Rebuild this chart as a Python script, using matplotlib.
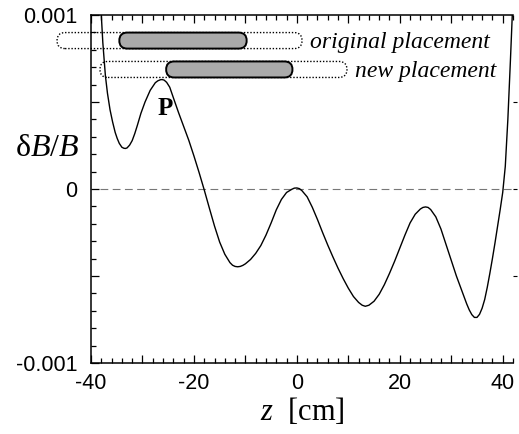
import numpy as np
import matplotlib
matplotlib.use("Agg")
import matplotlib.pyplot as plt
from matplotlib.patches import FancyBboxPatch
from matplotlib.ticker import MultipleLocator, FuncFormatter

plt.rcParams['font.family'] = 'Liberation Sans'
plt.rcParams['mathtext.fontset'] = 'custom'
plt.rcParams['mathtext.rm'] = 'Liberation Serif'
plt.rcParams['mathtext.it'] = 'Liberation Serif:italic'

## Data ##
z_cm = [-38.4, -38.0, -37.7, -37.2, -36.8, -36.3, -35.8, -35.3, -34.9, -34.5,
        -34.0, -33.6, -33.3, -33.0, -32.5, -32.0, -31.5, -31.0, -30.3, -29.5,
        -28.5, -27.5, -27.0, -26.5, -26.2, -25.8, -25.3, -24.7, -24.0, -23.0,
        -22.0, -21.0, -20.0, -19.0, -18.0, -17.0, -16.0, -15.0, -14.0, -13.0,
        -12.5, -12.0, -11.5, -11.0, -10.5, -10.0, -9.0, -8.0, -7.0, -6.0,
        -5.0, -4.0, -3.0, -2.0, -1.0, -0.5, 0.0, 0.5, 1.0, 2.0,
        3.0, 4.0, 5.0, 6.0, 7.0, 8.0, 9.0, 10.0, 11.0, 12.0,
        12.7, 13.3, 14.0, 15.0, 16.0, 17.0, 18.0, 19.0, 20.0, 21.0,
        22.0, 23.0, 24.0, 24.5, 25.0, 25.5, 26.0, 27.0, 28.0, 29.0,
        30.0, 31.0, 32.0, 33.0, 33.5, 34.0, 34.5, 35.0, 35.5, 36.0,
        36.5, 37.0, 37.5, 38.0, 38.5, 39.0, 39.5, 40.0, 40.5, 41.0,
        41.5, 42.0]
# dB/B in units of 1e-3
dB_B = [1.30, 1.00, 0.84, 0.65, 0.55, 0.455, 0.385, 0.325, 0.29, 0.262,
        0.24, 0.234, 0.233, 0.236, 0.252, 0.278, 0.318, 0.365, 0.435, 0.50,
        0.567, 0.611, 0.622, 0.628, 0.629, 0.626, 0.613, 0.585, 0.525, 0.44,
        0.36, 0.28, 0.19, 0.095, -0.005, -0.11, -0.213, -0.305, -0.375, -0.423,
        -0.438, -0.445, -0.447, -0.445, -0.439, -0.43, -0.405, -0.37, -0.325, -0.265,
        -0.195, -0.12, -0.06, -0.02, -0.002, 0.005, 0.006, 0.002, -0.01, -0.045,
        -0.105, -0.175, -0.25, -0.322, -0.39, -0.455, -0.515, -0.57, -0.618, -0.652,
        -0.668, -0.674, -0.668, -0.645, -0.605, -0.55, -0.485, -0.415, -0.34, -0.265,
        -0.195, -0.145, -0.115, -0.106, -0.103, -0.106, -0.118, -0.16, -0.23, -0.32,
        -0.41, -0.50, -0.58, -0.66, -0.695, -0.722, -0.738, -0.738, -0.72, -0.685,
        -0.635, -0.565, -0.485, -0.40, -0.31, -0.215, -0.12, -0.02, 0.13, 0.40,
        0.74, 1.10]

# magnet placements: (start, end) in cm, and row height in units of 1e-3
placement_labels = ["original placement", "new placement"]
magnet_span = [(-34.5, -9.75), (-25.4, -0.85)]
range_span = [(-46.6, 1.0), (-38.25, 9.75)]
row_level = [0.853, 0.687]
pipe_height = 0.092

y_ticks = [-0.001, 0, 0.001]
y_tick_labels = ["-0.001", "0", "0.001"]

fig = plt.figure(figsize=(5.19, 4.34), dpi=100)
ax = fig.add_axes([91/519, 1-363/434, 422/519, 348/434])
ax.set_xlim(-40, 42)
ax.set_ylim(-0.001, 0.001)

ax.plot(z_cm, np.array(dB_B)*1e-3, color='black', lw=1.0, zorder=3)
ax.axhline(0, xmin=0.021, xmax=1, color='#777777', lw=0.8,
           linestyle=(0, (7, 4)), zorder=2)

# pill shapes, round in pixels
ax_w = fig.get_figwidth()*fig.dpi*ax.get_position().width
ax_h = fig.get_figheight()*fig.dpi*ax.get_position().height
aspect = (0.002/ax_h)/(82/ax_w)
h = pipe_height*1e-3
r = h/aspect/2
for lab, (m0, m1), (d0, d1), lev in zip(placement_labels, magnet_span, range_span, row_level):
    yc = lev*1e-3
    dotted = FancyBboxPatch((d0, yc-h/2), d1-d0, h,
                            boxstyle="round,pad=0,rounding_size=%f" % r,
                            mutation_aspect=aspect, fc='none', ec='black',
                            lw=1.0, linestyle=(0, (1, 1.3)), clip_on=False, zorder=4)
    ax.add_patch(dotted)
    pipe = FancyBboxPatch((m0, yc-h/2), m1-m0, h,
                          boxstyle="round,pad=0,rounding_size=%f" % r,
                          mutation_aspect=aspect, fc='#aaaaaa', ec='black',
                          lw=1.4, clip_on=False, zorder=5)
    ax.add_patch(pipe)
    ax.text(d1+1.5, yc-0.01e-3, lab, family='Liberation Serif', style='italic',
            fontsize=17, va='center', ha='left')

ax.text(-25.6, 0.46e-3, "P", family='Liberation Serif', weight='bold',
        fontsize=18, ha='center', va='center')

# axes and ticks
ax.spines['right'].set_visible(False)
for s in ['left', 'bottom', 'top']:
    ax.spines[s].set_linewidth(1.1)

ax.xaxis.set_major_locator(MultipleLocator(10))
ax.xaxis.set_minor_locator(MultipleLocator(2))
ax.xaxis.set_major_formatter(FuncFormatter(
    lambda v, p: "%d" % v if round(v) % 20 == 0 else ""))
ax.yaxis.set_major_locator(MultipleLocator(0.0005))
ax.yaxis.set_minor_locator(MultipleLocator(0.0001))
ax.yaxis.set_major_formatter(FuncFormatter(
    lambda v, p: y_tick_labels[y_ticks.index(round(v, 4))] if round(v, 4) in y_ticks else ""))

ax.tick_params(which='both', direction='in', top=True, right=False, width=0.9)
ax.tick_params(which='major', length=6, labelsize=15.5)
ax.tick_params(axis='x', which='major', pad=7)
ax.tick_params(axis='y', which='major', pad=10)
ax.tick_params(which='minor', length=3.5)

sec = ax.secondary_yaxis('right')
sec.set_yticks([-0.0005, 0, 0.0005])
sec.tick_params(direction='out', length=3, width=0.8, labelright=False)
sec.spines['right'].set_visible(False)

ax.set_xlabel(r"$z$  [cm]", family='Liberation Serif', fontsize=22, labelpad=2)
ax.text(-0.103, 0.618, r"$\mathrm{\delta}B/B$", transform=ax.transAxes,
        fontsize=23, ha='center', va='center')

fig.savefig("out.png", dpi=100)
